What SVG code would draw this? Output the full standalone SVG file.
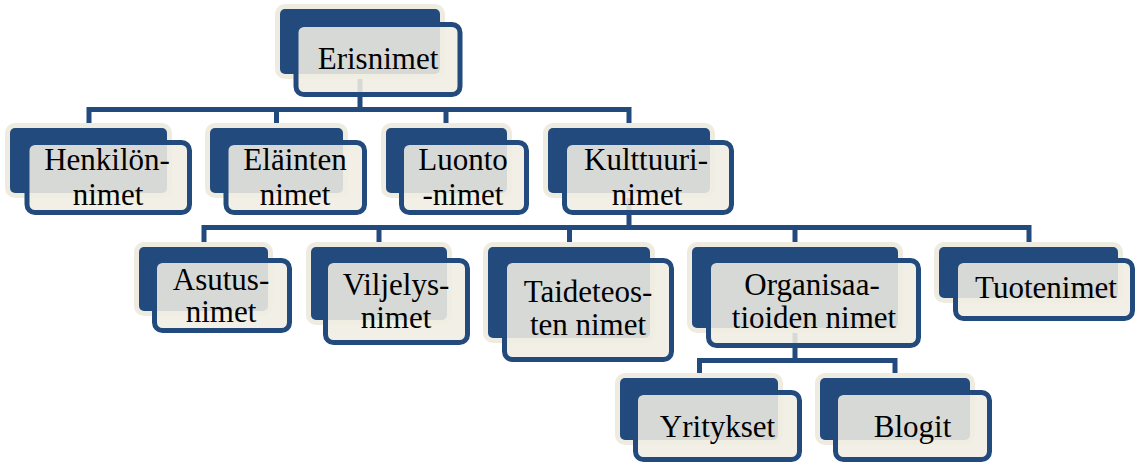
<svg xmlns="http://www.w3.org/2000/svg" width="1135" height="463" viewBox="0 0 1135 463">
<style>
.back{fill:#234a7d;stroke:#eeebe0;stroke-width:10;paint-order:stroke}
.front{fill:#f0ede3;fill-opacity:0.88;stroke:#234a7d;stroke-width:5}
.conn{fill:none;stroke:#234a7d;stroke-width:5;stroke-linejoin:miter}
text{font-family:'Liberation Serif','Times New Roman',serif;font-size:31px;fill:#000;text-anchor:middle}
</style>
<rect width="1135" height="463" fill="#fff"/>
<g id="connectors">
<path class="conn" d="M360 74 V109.5"/>
<path class="conn" d="M89 128 V109.5 H629 V128"/>
<path class="conn" d="M276.5 109.5 V128"/>
<path class="conn" d="M446 109.5 V128"/>
<path class="conn" d="M629 193 V227.5"/>
<path class="conn" d="M204 247 V227.5 H1029 V247"/>
<path class="conn" d="M379 227.5 V247"/>
<path class="conn" d="M569.5 227.5 V247"/>
<path class="conn" d="M795 227.5 V247"/>
<path class="conn" d="M795 328 V360.5"/>
<path class="conn" d="M699.5 378 V360.5 H895 V378"/>
</g>
<g id="n-erisnimet">
<rect class="back" x="280" y="9" width="160" height="65" rx="5"/>
<rect class="front" x="296" y="24.5" width="164" height="70" rx="8"/>
<text x="378" y="69">Erisnimet</text>
</g>
<g id="n-henkilo">
<rect class="back" x="10" y="128" width="157" height="65" rx="5"/>
<rect class="front" x="27" y="142.5" width="162.5" height="70" rx="8"/>
<text x="107" y="170">Henkilön-</text>
<text x="108" y="205">nimet</text>
</g>
<g id="n-elainten">
<rect class="back" x="210" y="128" width="133" height="65" rx="5"/>
<rect class="front" x="226" y="142.5" width="138.5" height="70" rx="8"/>
<text x="295" y="170">Eläinten</text>
<text x="295" y="205">nimet</text>
</g>
<g id="n-luonto">
<rect class="back" x="386" y="128" width="121" height="65" rx="5"/>
<rect class="front" x="401.5" y="142.5" width="125" height="70" rx="8"/>
<text x="463" y="170">Luonto</text>
<text x="463" y="205">-nimet</text>
</g>
<g id="n-kulttuuri">
<rect class="back" x="548" y="128" width="162" height="65" rx="5"/>
<rect class="front" x="564.5" y="142.5" width="167" height="70" rx="8"/>
<text x="646" y="170">Kulttuuri-</text>
<text x="647" y="205">nimet</text>
</g>
<g id="n-asutus">
<rect class="back" x="139" y="247" width="129" height="64" rx="5"/>
<rect class="front" x="154.5" y="260.5" width="135" height="70" rx="8"/>
<text x="221" y="290">Asutus-</text>
<text x="221" y="322">nimet</text>
</g>
<g id="n-viljelys">
<rect class="back" x="311" y="247" width="136" height="73" rx="5"/>
<rect class="front" x="325.5" y="260.5" width="142" height="82" rx="8"/>
<text x="396" y="295">Viljelys-</text>
<text x="396" y="328">nimet</text>
</g>
<g id="n-taideteos">
<rect class="back" x="488" y="247" width="162" height="91" rx="5"/>
<rect class="front" x="504.5" y="260.5" width="167" height="99" rx="8"/>
<text x="588" y="302">Taideteos-</text>
<text x="588" y="335">ten nimet</text>
</g>
<g id="n-organisaatio">
<rect class="back" x="692" y="247" width="206" height="81" rx="5"/>
<rect class="front" x="708.5" y="260.5" width="210" height="85" rx="8"/>
<text x="812" y="295">Organisaa-</text>
<text x="814" y="328">tioiden nimet</text>
</g>
<g id="n-tuotenimet">
<rect class="back" x="939" y="247" width="179" height="51" rx="5"/>
<rect class="front" x="955.5" y="260.5" width="177" height="58" rx="8"/>
<text x="1046" y="298">Tuotenimet</text>
</g>
<g id="n-yritykset">
<rect class="back" x="620" y="378" width="158" height="62" rx="5"/>
<rect class="front" x="635.5" y="392.5" width="164" height="67" rx="8"/>
<text x="717.5" y="437">Yritykset</text>
</g>
<g id="n-blogit">
<rect class="back" x="820" y="378" width="150" height="62" rx="5"/>
<rect class="front" x="835.5" y="392.5" width="154" height="67" rx="8"/>
<text x="912.5" y="437">Blogit</text>
</g>
</svg>
